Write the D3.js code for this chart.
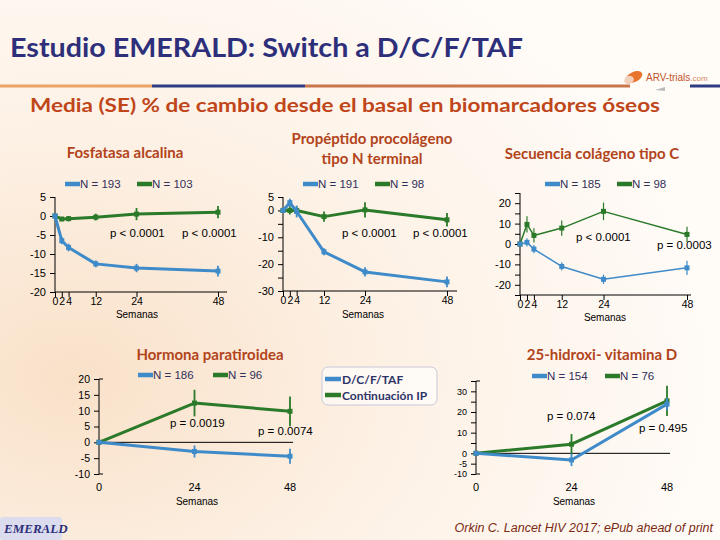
<!DOCTYPE html>
<html><head><meta charset="utf-8">
<script src="https://cdn.jsdelivr.net/npm/d3@7"></script>
<style>html,body{margin:0;padding:0;}svg{display:block;}</style>
</head><body>
<script>
// ---------- DATA ----------
const weeksFull = [0, 2, 4, 12, 24, 48];
const weeksShort = [0, 24, 48];

const alpBlue = [0, -6.5, -8.3, -12.6, -13.7, -14.5];
const alpBlueSE = [0, 0.9, 1.0, 0.9, 1.1, 1.4];
const alpGreen = [0, -0.8, -0.7, -0.3, 0.5, 1.0];
const alpGreenSE = [0, 0.5, 0.7, 0.9, 1.6, 1.6];

const p1npBlue = [0, 2.9, -0.4, -15.4, -22.9, -26.6];
const p1npBlueSE = [0, 1.5, 2.2, 1.3, 1.7, 2.0];
const p1npGreen = [0, 0, 0, -2.3, 0.2, -3.5];
const p1npGreenSE = [0, 1.5, 1.5, 1.9, 2.8, 2.5];

const ctxBlue = [0, 0.8, -2.5, -11, -17.3, -11.7];
const ctxBlueSE = [0, 2, 2, 2, 2.3, 3.5];
const ctxGreen = [0, 9.6, 4.2, 7.8, 16, 4.7];
const ctxGreenSE = [0, 4, 3.5, 3.7, 4.3, 3.7];

const pthBlue = [0, -2.9, -4.4];
const pthBlueSE = [0, 1.9, 2.4];
const pthGreen = [0, 12.4, 9.8];
const pthGreenSE = [0, 4.2, 4.7];

const vitdBlue = [0, -3.2, 23.8];
const vitdBlueSE = [0, 3, 3];
const vitdGreen = [0, 4.4, 25.4];
const vitdGreenSE = [0, 4.9, 7.3];

const legendLabels = ["D/C/F/TAF", "Continuación IP"];
const nLabels = [["N = 193", "N = 103"], ["N = 191", "N = 98"], ["N = 185", "N = 98"], ["N = 186", "N = 96"], ["N = 154", "N = 76"]];
const pLabels = [["p < 0.0001", "p < 0.0001"], ["p < 0.0001", "p < 0.0001"], ["p < 0.0001", "p = 0.0003"], ["p = 0.0019", "p = 0.0074"], ["p = 0.074", "p = 0.495"]];
const panelTitles = [["Fosfatasa alcalina"], ["Propéptido procolágeno", "tipo N terminal"], ["Secuencia colágeno tipo C"], ["Hormona paratiroidea"], ["25-hidroxi- vitamina D"]];

// ---------- STYLE ----------
const BLUE = "#3f8bc9", GREEN = "#2a7a2a", TITLE = "#b2441b", NAVY = "#2d2f7a";
const W = 720, H = 540;
const svg = d3.select("body").append("svg").attr("width", W).attr("height", H)
  .style("font-family", "'Liberation Sans', Arial, sans-serif");

const defs = svg.append("defs");
const bg = defs.append("radialGradient").attr("id", "bg").attr("cx", "0.1").attr("cy", "0.7").attr("r", "0.9");
bg.append("stop").attr("offset", "0").attr("stop-color", "#f9e1c9");
bg.append("stop").attr("offset", "0.5").attr("stop-color", "#fdf1e5");
bg.append("stop").attr("offset", "1").attr("stop-color", "#fffbf7");
svg.append("rect").attr("width", W).attr("height", H).attr("fill", "url(#bg)");

// ---------- HEADER ----------
svg.append("text").attr("x", 10).attr("y", 57).text("Estudio EMERALD: Switch a D/C/F/TAF")
  .attr("font-family", "Lato, 'Open Sans', sans-serif").attr("font-weight", "bold")
  .attr("font-size", 27).attr("fill", NAVY)
  .attr("textLength", 513).attr("lengthAdjust", "spacingAndGlyphs");

const hl = [[0, 152, "#e9a466"], [152, 305, "#2f3b82"], [305, 630, "#c9764d"], [690, 720, "#2f3b82"]];
svg.selectAll(".hl").data(hl).join("line")
  .attr("x1", d => d[0]).attr("x2", d => d[1]).attr("y1", 86).attr("y2", 86)
  .attr("stroke", d => d[2]).attr("stroke-width", 3);
// logo
svg.append("ellipse").attr("cx", 634).attr("cy", 77).attr("rx", 9).attr("ry", 5)
  .attr("fill", "#e8742e").attr("transform", "rotate(-25,634,77)");
svg.append("ellipse").attr("cx", 629).attr("cy", 80).attr("rx", 5).attr("ry", 4)
  .attr("fill", "#f2d2bd").attr("transform", "rotate(-25,629,80)");
svg.append("text").attr("x", 646).attr("y", 81).text("ARV-trials").attr("font-size", 10).attr("fill", "#c2552a")
  .append("tspan").text(".com").attr("font-size", 8).attr("fill", "#d68a60");
svg.append("path").attr("d", "M655,90 L665,87 L665,91 Z").attr("fill", "#bbbbbb");

svg.append("text").attr("x", 345).attr("y", 112).attr("text-anchor", "middle")
  .text("Media (SE) % de cambio desde el basal en biomarcadores óseos")
  .attr("font-family", "Lato, 'Open Sans', sans-serif").attr("font-weight", "bold")
  .attr("font-size", 19).attr("fill", "#c0461a")
  .attr("textLength", 630).attr("lengthAdjust", "spacingAndGlyphs");

// ---------- PANELS ----------
const panels = [
  { x: [55, 218], y: [292, 197], yd: [-20, 5], weeks: weeksFull,
    blue: alpBlue, blueSE: alpBlueSE, green: alpGreen, greenSE: alpGreenSE,
    yticks: d3.range(-20, 6, 5), ylabels: [5, 0, -5, -10, -15, -20], yfs: 11, axisEnd: 227, bottomAxis: true, lw: 3,
    titleX: 125, titleY: [158], legY: 184, legX: [65, 137], pPos: [[110, 237], [182, 237]], semY: 318, semX: 137 },
  { x: [283, 447], y: [291, 197], yd: [-30, 5], weeks: weeksFull,
    blue: p1npBlue, blueSE: p1npBlueSE, green: p1npGreen, greenSE: p1npGreenSE,
    yticks: d3.range(-30, 6, 5), ylabels: [5, 0, -10, -20, -30], yfs: 11, axisEnd: 457, bottomAxis: true, lw: 3,
    titleX: 372, titleY: [144, 164], legY: 184, legX: [303, 375], pPos: [[342, 237], [413, 237]], semY: 318, semX: 363 },
  { x: [520, 687], y: [295, 193], yd: [-25, 25], weeks: weeksFull,
    blue: ctxBlue, blueSE: ctxBlueSE, green: ctxGreen, greenSE: ctxGreenSE,
    yticks: d3.range(-25, 26, 5), ylabels: [20, 10, 0, -10, -20], yfs: 11, axisEnd: 691, bottomAxis: true, lw: 1.5,
    titleX: 592, titleY: [159], legY: 184, legX: [545, 617], pPos: [[576, 241], [657, 249]], semY: 321, semX: 605 },
  { x: [99, 290], y: [474, 379], yd: [-10, 20], weeks: weeksShort,
    blue: pthBlue, blueSE: pthBlueSE, green: pthGreen, greenSE: pthGreenSE,
    yticks: d3.range(-10, 21, 5), ylabels: [20, 15, 10, 5, 0, -5, -10], yfs: 10.5, axisEnd: 293, bottomAxis: false, lw: 3,
    titleX: 210, titleY: [360], legY: 375, legX: [138, 213], pPos: [[170, 427], [258, 435]], semY: 505, semX: 197 },
  { x: [476, 667], y: [474, 381], yd: [-10, 35], weeks: weeksShort,
    blue: vitdBlue, blueSE: vitdBlueSE, green: vitdGreen, greenSE: vitdGreenSE,
    yticks: d3.range(-10, 36, 5), ylabels: [30, 20, 10, 0, -5, -10], yfs: 9, axisEnd: 670, bottomAxis: false, lw: 3,
    titleX: 602, titleY: [360], legY: 376, legX: [532, 605], pPos: [[547, 420], [639, 432]], semY: 505, semX: 574 }
];

panels.forEach((p, i) => {
  const g = svg.append("g");
  const xs = d3.scaleLinear().domain([0, 48]).range(p.x);
  const ys = d3.scaleLinear().domain(p.yd).range(p.y);
  const x0 = p.x[0];

  // title
  panelTitles[i].forEach((t, k) => {
    g.append("text").attr("x", p.titleX).attr("y", p.titleY[k]).attr("text-anchor", "middle").text(t)
      .attr("font-family", "Lato, 'Open Sans', sans-serif").attr("font-weight", "bold")
      .attr("font-size", 15).attr("fill", TITLE);
  });

  // legend
  [BLUE, GREEN].forEach((c, k) => {
    g.append("line").attr("x1", p.legX[k]).attr("x2", p.legX[k] + 15).attr("y1", p.legY).attr("y2", p.legY)
      .attr("stroke", c).attr("stroke-width", 4.5);
    g.append("text").attr("x", p.legX[k] + 15).attr("y", p.legY + 4).text(nLabels[i][k])
      .attr("font-size", 11.5).attr("fill", "#30305a");
  });

  // y axis
  const yAxis = d3.axisLeft(ys).tickValues(p.yticks).tickSize(5)
    .tickFormat(d => p.ylabels.includes(d) ? (d < 0 ? "-" + Math.abs(d) : d) : "");
  const ya = g.append("g").attr("transform", `translate(${x0},0)`).call(yAxis);
  ya.select(".domain").attr("d", `M0,${ys(p.yd[1])}V${ys(p.yd[0])}`).attr("stroke", "#000");
  ya.selectAll("text").attr("font-size", p.yfs).attr("fill", "#000").attr("dx", -1);
  if (!p.bottomAxis) {
    [p.yd[0], p.yd[1]].forEach(v => g.append("line").attr("x1", x0).attr("x2", x0 + 4)
      .attr("y1", ys(v)).attr("y2", ys(v)).attr("stroke", "#000"));
  }

  // x axis / zero line
  if (p.bottomAxis) {
    const xAxis = d3.axisBottom(xs).tickValues(p.weeks).tickSize(5).tickPadding(1).tickFormat(d3.format("d"));
    const xa = g.append("g").attr("transform", `translate(0,${p.y[0]})`).call(xAxis);
    xa.select(".domain").attr("d", `M${x0},0H${p.axisEnd}`).attr("stroke", "#000");
    xa.selectAll("text").attr("font-size", 10.5).attr("fill", "#000").attr("dy", "0.71em");
  } else {
    g.append("line").attr("x1", x0).attr("x2", p.axisEnd).attr("y1", ys(0)).attr("y2", ys(0))
      .attr("stroke", "#000").attr("stroke-width", 1);
    g.selectAll(".xl").data(p.weeks).join("text").attr("x", d => xs(d)).attr("y", 491)
      .attr("text-anchor", "middle").text(d => d).attr("font-size", 11).attr("fill", "#000");
  }
  g.append("text").attr("x", p.semX).attr("y", p.semY).attr("text-anchor", "middle").text("Semanas")
    .attr("font-size", 10).attr("fill", "#000");

  // series
  const series = [[p.green, p.greenSE, GREEN], [p.blue, p.blueSE, BLUE]];
  const line = d3.line().x(d => xs(d[0])).y(d => ys(d[1]));
  series.forEach(([vals, se, c]) => {
    const pts = p.weeks.map((w, k) => [w, vals[k], se[k]]);
    g.append("path").datum(pts).attr("d", line).attr("fill", "none").attr("stroke", c)
      .attr("stroke-width", p.lw).attr("stroke-linejoin", "round");
    g.selectAll(null).data(pts.filter(d => d[2] > 0)).join("line")
      .attr("x1", d => xs(d[0])).attr("x2", d => xs(d[0]))
      .attr("y1", d => ys(d[1] - d[2])).attr("y2", d => ys(d[1] + d[2]))
      .attr("stroke", c).attr("stroke-width", p.lw > 2 ? 1.8 : 1.2);
    g.selectAll(null).data(pts).join("rect")
      .attr("x", d => xs(d[0]) - 2.5).attr("y", d => ys(d[1]) - 2.5).attr("width", 5).attr("height", 5)
      .attr("fill", c);
  });

  // p-values
  pLabels[i].forEach((t, k) => {
    g.append("text").attr("x", p.pPos[k][0]).attr("y", p.pPos[k][1]).text(t)
      .attr("font-size", 11.5).attr("fill", "#000");
  });
});

// ---------- SHARED LEGEND ----------
svg.append("rect").attr("x", 322).attr("y", 367).attr("width", 115).attr("height", 38).attr("rx", 6)
  .attr("fill", "#ffffff").attr("fill-opacity", 0.6).attr("stroke", "#c8c8d8");
[BLUE, GREEN].forEach((c, k) => {
  const y = 379 + k * 16;
  svg.append("line").attr("x1", 325).attr("x2", 341).attr("y1", y).attr("y2", y).attr("stroke", c).attr("stroke-width", 4.5);
  svg.append("text").attr("x", 342).attr("y", y + 4.5).text(legendLabels[k])
    .attr("font-family", "Lato, 'Open Sans', sans-serif").attr("font-weight", "bold")
    .attr("font-size", 12).attr("fill", "#2e3468");
});

// ---------- FOOTER ----------
svg.append("rect").attr("x", 0).attr("y", 517).attr("width", 62).attr("height", 23).attr("fill", "#dcdcef").attr("rx", 3);
svg.append("text").attr("x", 4).attr("y", 533).text("EMERALD")
  .attr("font-family", "'Liberation Serif', 'DejaVu Serif', serif").attr("font-style", "italic").attr("font-weight", "bold")
  .attr("font-size", 13).attr("fill", "#2b2e78");
svg.append("text").attr("x", 713).attr("y", 532).attr("text-anchor", "end")
  .text("Orkin C. Lancet HIV 2017; ePub ahead of print")
  .attr("font-style", "italic").attr("font-size", 12.5).attr("fill", "#7a2a12");
</script>
</body></html>
